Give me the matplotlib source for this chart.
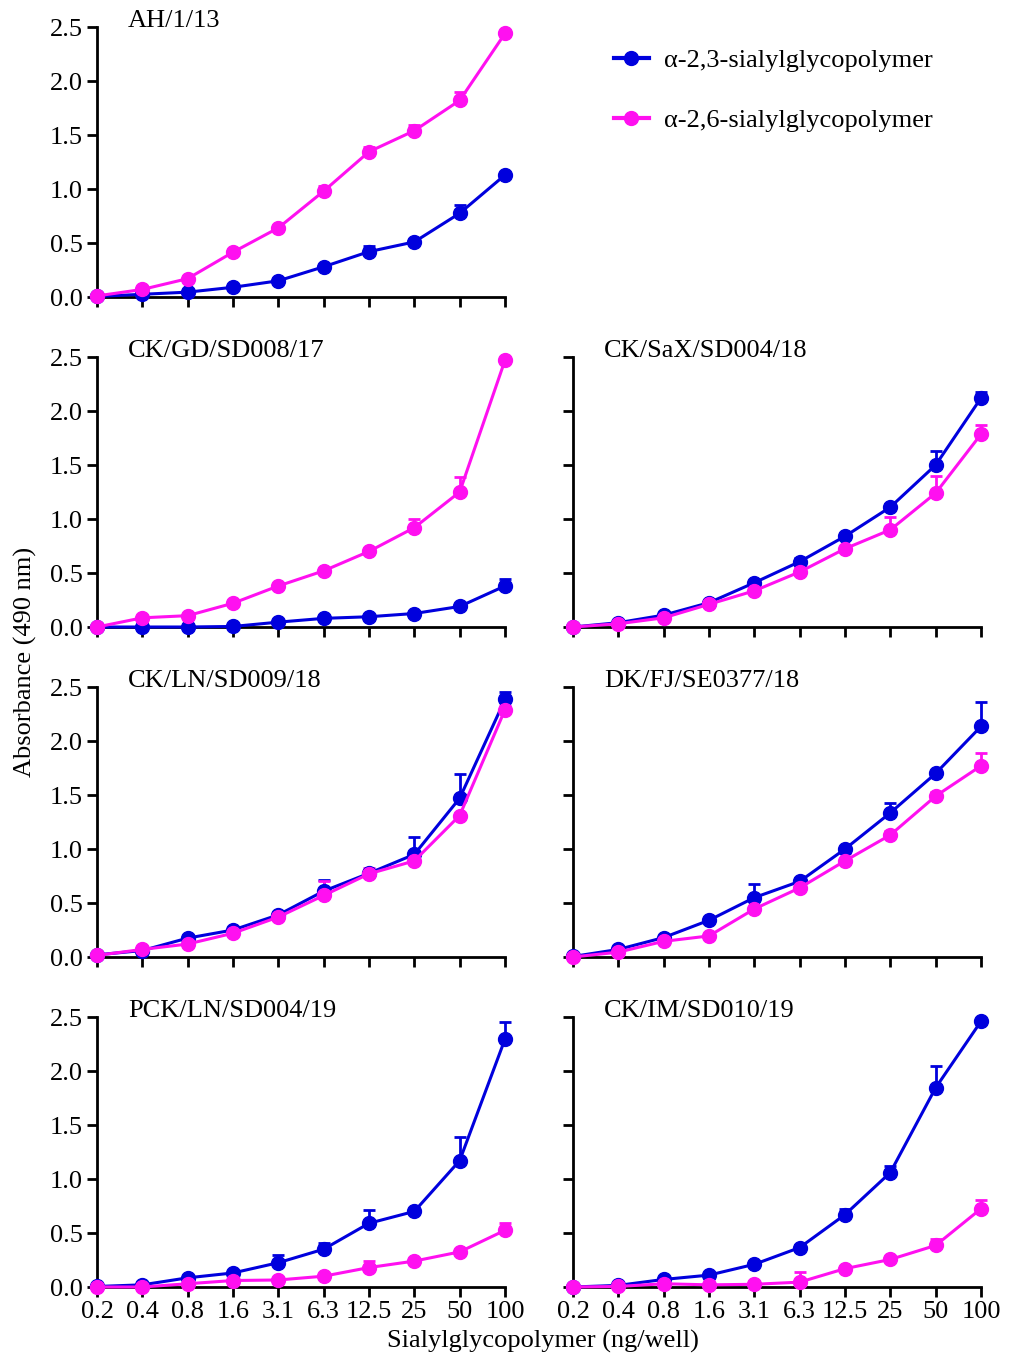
import numpy as np
import matplotlib
matplotlib.use("Agg")
import matplotlib.pyplot as plt
from matplotlib.lines import Line2D

plt.rcParams['font.family'] = ['Liberation Serif', 'DejaVu Serif']

doses = ["0.2", "0.4", "0.8", "1.6", "3.1", "6.3", "12.5", "25", "50", "100"]

strains = ["AH/1/13", "CK/GD/SD008/17", "CK/SaX/SD004/18", "CK/LN/SD009/18",
           "DK/FJ/SE0377/18", "PCK/LN/SD004/19", "CK/IM/SD010/19"]

# alpha-2,3 means and upper SD
a23_ah = [0.005, 0.025, 0.045, 0.09, 0.15, 0.28, 0.42, 0.51, 0.775, 1.13]
a23_ah_err = [0, 0, 0, 0.01, 0.01, 0.02, 0.05, 0.02, 0.08, 0.02]
a23_gd = [0.0, 0.0, 0.0, 0.005, 0.045, 0.08, 0.095, 0.125, 0.19, 0.38]
a23_gd_err = [0, 0, 0, 0, 0.01, 0.01, 0.01, 0.01, 0.02, 0.06]
a23_sax = [0.0, 0.04, 0.11, 0.225, 0.41, 0.605, 0.84, 1.11, 1.50, 2.12]
a23_sax_err = [0, 0, 0.01, 0.02, 0.02, 0.03, 0.02, 0.03, 0.13, 0.06]
a23_ln = [0.02, 0.06, 0.175, 0.25, 0.39, 0.61, 0.775, 0.95, 1.47, 2.385]
a23_ln_err = [0, 0, 0.01, 0.02, 0.03, 0.1, 0.03, 0.16, 0.22, 0.065]
a23_fj = [0.005, 0.07, 0.18, 0.34, 0.55, 0.70, 1.00, 1.335, 1.70, 2.135]
a23_fj_err = [0, 0, 0.01, 0.02, 0.13, 0.03, 0.02, 0.095, 0.02, 0.225]
a23_pck = [0.005, 0.02, 0.085, 0.13, 0.225, 0.35, 0.59, 0.70, 1.17, 2.295]
a23_pck_err = [0, 0, 0.01, 0.01, 0.075, 0.06, 0.12, 0.02, 0.22, 0.16]
a23_im = [0.0, 0.015, 0.07, 0.11, 0.21, 0.365, 0.67, 1.06, 1.845, 2.46]
a23_im_err = [0, 0, 0.01, 0.01, 0.01, 0.02, 0.05, 0.065, 0.2, 0.02]

# alpha-2,6 means and upper SD
a26_ah = [0.01, 0.07, 0.17, 0.415, 0.64, 0.98, 1.345, 1.54, 1.82, 2.44]
a26_ah_err = [0, 0.01, 0.01, 0.02, 0.02, 0.05, 0.04, 0.05, 0.08, 0.02]
a26_gd = [0.0, 0.085, 0.105, 0.22, 0.38, 0.52, 0.70, 0.92, 1.25, 2.47]
a26_gd_err = [0, 0.01, 0.01, 0.01, 0.02, 0.02, 0.02, 0.08, 0.14, 0.02]
a26_sax = [0.0, 0.03, 0.085, 0.21, 0.335, 0.51, 0.725, 0.90, 1.24, 1.785]
a26_sax_err = [0, 0, 0.01, 0.02, 0.02, 0.04, 0.02, 0.12, 0.16, 0.085]
a26_ln = [0.015, 0.07, 0.12, 0.22, 0.37, 0.57, 0.77, 0.89, 1.31, 2.29]
a26_ln_err = [0, 0.01, 0.01, 0.02, 0.02, 0.13, 0.05, 0.02, 0.02, 0.03]
a26_fj = [0.0, 0.045, 0.145, 0.195, 0.445, 0.64, 0.89, 1.13, 1.49, 1.77]
a26_fj_err = [0, 0, 0.01, 0.01, 0.02, 0.02, 0.07, 0.04, 0.04, 0.12]
a26_pck = [0.0, 0.0, 0.03, 0.06, 0.065, 0.10, 0.18, 0.24, 0.325, 0.525]
a26_pck_err = [0, 0, 0, 0.01, 0.01, 0.01, 0.06, 0.02, 0.02, 0.07]
a26_im = [0.0, 0.005, 0.03, 0.02, 0.025, 0.045, 0.17, 0.255, 0.385, 0.725]
a26_im_err = [0, 0, 0, 0, 0, 0.095, 0.02, 0.02, 0.055, 0.085]

a23 = [(a23_ah, a23_ah_err), (a23_gd, a23_gd_err), (a23_sax, a23_sax_err),
       (a23_ln, a23_ln_err), (a23_fj, a23_fj_err), (a23_pck, a23_pck_err),
       (a23_im, a23_im_err)]
a26 = [(a26_ah, a26_ah_err), (a26_gd, a26_gd_err), (a26_sax, a26_sax_err),
       (a26_ln, a26_ln_err), (a26_fj, a26_fj_err), (a26_pck, a26_pck_err),
       (a26_im, a26_im_err)]

blue = "#0000DD"
pink = "#FF10F0"
fs = 19

W, H = 1016, 1354
fig = plt.figure(figsize=(W / 100, H / 100), dpi=100)

# (left px, top px) for each panel
panel_pos = [(97, 27), (97, 357), (573, 357), (97, 687), (573, 687), (97, 1017), (573, 1017)]
pw, ph = 408, 270

x = np.arange(len(doses))
for i, (px, py) in enumerate(panel_pos):
    ax = fig.add_axes([px / W, 1 - (py + ph) / H, pw / W, ph / H])
    for (vals, err), col in [(a23[i], blue), (a26[i], pink)]:
        vals = np.array(vals)
        err = np.array(err)
        ax.errorbar(x, vals, yerr=[np.zeros_like(err), err], color=col,
                     marker='o', markersize=10, lw=2.2, elinewidth=2,
                     capsize=4.5, capthick=2, clip_on=False, zorder=3)
    ax.set_xlim(0, 9)
    ax.set_ylim(0, 2.5)
    ax.set_yticks([0, 0.5, 1.0, 1.5, 2.0, 2.5])
    ax.set_xticks(x)
    ax.spines['top'].set_visible(False)
    ax.spines['right'].set_visible(False)
    ax.spines['left'].set_linewidth(2)
    ax.spines['bottom'].set_linewidth(2)
    ax.tick_params(direction='out', length=7, width=2, labelsize=fs, pad=3)
    if px < 300:
        ax.set_yticklabels(["0.0", "0.5", "1.0", "1.5", "2.0", "2.5"])
    else:
        ax.set_yticklabels([])
    if py > 1000:
        ax.set_xticklabels(doses)
    else:
        ax.set_xticklabels([])
    ax.text(0.076, 1.0, strains[i], transform=ax.transAxes, fontsize=fs,
            ha='left', va='baseline')

fig.text(25 / W, 1 - 662 / H, "Absorbance (490 nm)", rotation=90,
         fontsize=fs, ha='center', va='center')
fig.text(543 / W, 1 - 1341 / H, "Sialylglycopolymer (ng/well)",
         fontsize=fs, ha='center', va='center')

handles = [Line2D([], [], color=blue, marker='o', markersize=10, lw=3),
           Line2D([], [], color=pink, marker='o', markersize=10, lw=3)]
fig.legend(handles, ["\u03b1-2,3-sialylglycopolymer", "\u03b1-2,6-sialylglycopolymer"],
           loc='upper left', bbox_to_anchor=(603 / W, 1 - 38 / H), frameon=False,
           fontsize=fs, handlelength=1.35, handletextpad=0.55, labelspacing=1.38,
           borderaxespad=0)

fig.savefig("out.png", dpi=100)
